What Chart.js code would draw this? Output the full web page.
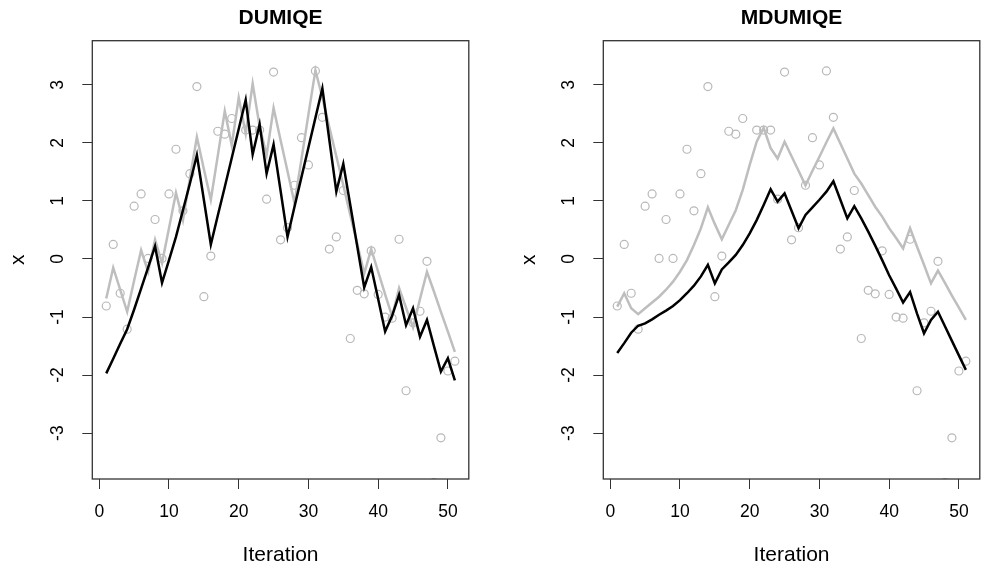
<!DOCTYPE html>
<html>
<head>
<meta charset="utf-8">
<script src="https://cdn.jsdelivr.net/npm/chart.js@4.4.1/dist/chart.umd.min.js"></script>
<style>
html, body { margin: 0; padding: 0; background: #fff; overflow: hidden; }
.panel { position: absolute; top: 0; width: 474px; height: 566px; }
</style>
</head>
<body>
<div class="panel" style="left:0"><canvas id="left" width="474" height="566"></canvas></div>
<div class="panel" style="left:511px"><canvas id="right" width="474" height="566"></canvas></div>
<script>
// iteration index and observed samples (same in both panels)
const iterations = [1,2,3,4,5,6,7,8,9,10,11,12,13,14,15,16,17,18,19,20,21,22,23,24,25,26,27,28,29,30,31,32,33,34,35,36,37,38,39,40,41,42,43,44,45,46,47,48,49,50,51];
const observed = [-0.81,0.25,-0.59,-1.21,0.91,1.12,0.01,0.68,0.01,1.12,1.89,0.83,1.47,2.97,-0.65,0.05,2.20,2.15,2.42,null,
  2.22,2.22,2.22,1.03,3.22,0.33,0.54,1.27,2.09,1.62,3.24,2.44,0.17,0.38,1.18,-1.37,-0.54,-0.60,0.14,-0.61,
  -1.00,-1.02,0.34,-2.27,-1.10,-0.90,-0.04,-3.85,-3.08,-1.93,-1.76];

// DUMIQE panel
const dumiqeGray = [-0.68,-0.15,-0.53,-0.91,-0.37,0.15,-0.22,0.33,-0.07,0.53,1.14,0.67,1.39,2.10,1.55,1.02,1.78,2.55,1.96,2.78,
  2.16,3.02,2.28,1.79,2.60,2.05,1.51,0.96,1.72,2.49,3.25,2.78,2.27,1.77,1.27,0.76,0.26,-0.25,0.17,-0.22,
  -0.61,-0.99,-0.50,-0.84,-1.18,-0.69,-0.22,-0.56,-0.91,-1.25,-1.60];
const dumiqeBlack = [-1.97,-1.72,-1.46,-1.21,-0.87,-0.51,-0.15,0.22,-0.41,-0.02,0.38,0.84,1.30,1.79,1.02,0.25,0.75,1.24,1.74,2.24,
  2.74,1.80,2.32,1.47,1.97,1.18,0.38,0.90,1.41,1.92,2.43,2.94,2.05,1.16,1.64,0.93,0.22,-0.49,-0.14,-0.69,
  -1.25,-0.98,-0.62,-1.14,-0.85,-1.34,-1.05,-1.50,-1.94,-1.71,-2.09];

// MDUMIQE panel
const mdumiqeGray = [-0.82,-0.59,-0.85,-0.95,-0.85,-0.75,-0.65,-0.53,-0.39,-0.22,-0.02,0.24,0.53,0.89,0.60,0.34,0.59,0.84,1.19,1.62,
  2.02,2.26,1.91,1.73,2.02,1.77,1.52,1.27,1.52,1.76,2.01,2.25,1.99,1.73,1.47,1.30,1.10,0.90,0.73,0.53,
  0.36,0.18,0.53,0.21,-0.10,-0.42,-0.20,-0.41,-0.63,-0.84,-1.05];
const mdumiqeBlack = [-1.62,-1.45,-1.27,-1.15,-1.11,-1.04,-0.96,-0.89,-0.81,-0.71,-0.59,-0.46,-0.30,-0.10,-0.42,-0.18,-0.06,0.07,0.24,0.44,
  0.67,0.93,1.20,0.99,1.13,0.83,0.53,0.76,0.89,1.02,1.16,1.34,1.02,0.70,0.91,0.70,0.47,0.23,-0.02,-0.28,
  -0.51,-0.75,-0.57,-0.94,-1.28,-1.05,-0.91,-1.16,-1.41,-1.66,-1.91];

const xTicks = [0,10,20,30,40,50];
const yTicks = [-3,-2,-1,0,1,2,3];

Chart.defaults.font.family = '"Liberation Sans", Arial, Helvetica, sans-serif';
Chart.defaults.color = '#000';

// R style frame round the plot region
const boxPlugin = {
  id: 'box',
  afterDatasetsDraw(chart) {
    const a = chart.chartArea, ctx = chart.ctx;
    ctx.save();
    ctx.strokeStyle = '#333';
    ctx.lineWidth = 1.3;
    ctx.strokeRect(a.left, a.top, a.right - a.left, a.bottom - a.top);
    ctx.restore();
  }
};

function pts(values) {
  return iterations.map((t, i) => ({x: t, y: values[i]}));
}

function makeChart(id, title, gray, black) {
  new Chart(id, {
    type: 'scatter',
    data: {
      datasets: [
        {data: pts(black), showLine: true, borderColor: '#000', borderWidth: 2.5, pointRadius: 0, tension: 0, order: 1},
        {data: pts(gray), showLine: true, borderColor: '#bebebe', borderWidth: 2.5, pointRadius: 0, tension: 0, order: 2},
        {data: pts(observed), showLine: false, borderColor: '#b8b8b8', backgroundColor: 'rgba(0,0,0,0)',
         pointRadius: 4, pointBorderWidth: 1.2, clip: 0, order: 3}
      ]
    },
    options: {
      responsive: false,
      animation: false,
      layout: {padding: {right: 1.5}},
      plugins: {
        legend: {display: false},
        tooltip: {enabled: false},
        title: {
          display: true, text: title, color: '#000', fullSize: false,
          font: {size: 21, weight: 'bold', lineHeight: 1.2},
          padding: {top: 5.4, bottom: 10.1}
        }
      },
      scales: {
        x: {
          type: 'linear', min: -1, max: 53,
          afterBuildTicks: s => { s.ticks = xTicks.map(v => ({value: v})); },
          afterFit: s => { s.height = 87; s.paddingLeft = 0; s.paddingRight = 0; },
          border: {display: false},
          grid: {drawOnChartArea: false, drawTicks: true, tickLength: 10, color: '#333', lineWidth: 1},
          ticks: {font: {size: 17.5}, padding: 12.5, maxRotation: 0, autoSkip: false},
          title: {display: true, text: 'Iteration', font: {size: 21, lineHeight: 1}, padding: {top: 0, bottom: 0}}
        },
        y: {
          type: 'linear', min: -3.79, max: 3.76,
          afterBuildTicks: s => { s.ticks = yTicks.map(v => ({value: v})); },
          afterFit: s => { s.width = 92.3; },
          border: {display: false},
          grid: {drawOnChartArea: false, drawTicks: true, tickLength: 10, color: '#333', lineWidth: 1},
          ticks: {font: {size: 17.5}, padding: 16, minRotation: 90, maxRotation: 90, crossAlign: 'center', autoSkip: false},
          title: {display: true, text: 'x', font: {size: 21, lineHeight: 1}, padding: {top: 7.8, bottom: 0}}
        }
      }
    },
    plugins: [boxPlugin]
  });
}

makeChart('left', 'DUMIQE', dumiqeGray, dumiqeBlack);
makeChart('right', 'MDUMIQE', mdumiqeGray, mdumiqeBlack);
</script>
</body>
</html>
